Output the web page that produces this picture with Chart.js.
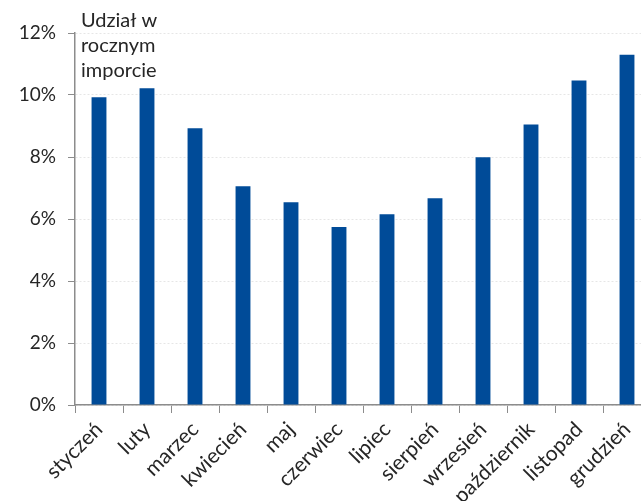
<!DOCTYPE html>
<html>
<head>
<meta charset="utf-8">
<script src="https://cdn.jsdelivr.net/npm/chart.js@4"></script>
<style>
  html, body { margin: 0; padding: 0; background: #fff; overflow: hidden; }
  #wrap { width: 660px; height: 501px; }
</style>
</head>
<body>
<div id="wrap"><canvas id="wykres" width="660" height="501"></canvas></div>
<script>
// miesiące i udział w rocznym imporcie (%)
const miesiace = ['styczeń', 'luty', 'marzec', 'kwiecień', 'maj', 'czerwiec', 'lipiec', 'sierpień', 'wrzesień', 'październik', 'listopad', 'grudzień'];
const udzial = [9.93, 10.22, 8.93, 7.06, 6.54, 5.74, 6.15, 6.67, 7.99, 9.05, 10.47, 11.3];
const tytulOsi = ['Udział w', 'rocznym', 'imporcie'];

const kolorTekstu = '#262626';
const czcionka = 'Lato, "Noto Sans", sans-serif';

// podpis nad osią Y, rysowany wewnątrz obszaru wykresu
const podpisOsi = {
  id: 'podpisOsi',
  afterDraw(chart) {
    const ctx = chart.ctx;
    const area = chart.chartArea;
    ctx.save();
    ctx.fillStyle = kolorTekstu;
    ctx.font = '20px ' + czcionka;
    ctx.textBaseline = 'alphabetic';
    ctx.textAlign = 'left';
    tytulOsi.forEach((linia, i) => {
      ctx.fillText(linia, area.left + 6, 27 + i * 25);
    });
    ctx.restore();
  }
};

const ctx = document.getElementById('wykres').getContext('2d');
const chart = new Chart(ctx, {
  type: 'bar',
  data: {
    labels: miesiace,
    datasets: [{
      data: udzial,
      backgroundColor: '#004B98',
      borderWidth: 0,
      barPercentage: 0.31,
      categoryPercentage: 1
    }]
  },
  options: {
    responsive: false,
    animation: false,
    layout: { padding: { top: 33, right: 9, left: 0, bottom: 0 } },
    plugins: {
      legend: { display: false },
      tooltip: { enabled: false }
    },
    scales: {
      x: {
        grid: {
          display: true,
          drawOnChartArea: false,
          drawTicks: true,
          tickLength: 8,
          tickColor: '#8c8c8c',
          offset: true
        },
        border: { color: '#8c8c8c', width: 1.5 },
        ticks: {
          color: kolorTekstu,
          font: { family: czcionka, size: 21 },
          maxRotation: 45,
          minRotation: 45,
          padding: 4,
          autoSkip: false
        },
        afterFit(scale) { scale.height = 96; }
      },
      y: {
        min: 0,
        max: 12,
        ticks: {
          stepSize: 2,
          color: kolorTekstu,
          font: { family: czcionka, size: 19 },
          padding: 12,
          callback: v => v + '%'
        },
        grid: {
          color: '#e6e6e6',
          lineWidth: 1,
          tickLength: 7,
          tickColor: '#8c8c8c'
        },
        border: { color: '#8c8c8c', width: 1.5, dash: [2, 2] },
        afterFit(scale) { scale.width = 75; }
      }
    }
  },
  plugins: [podpisOsi]
});
</script>
</body>
</html>
